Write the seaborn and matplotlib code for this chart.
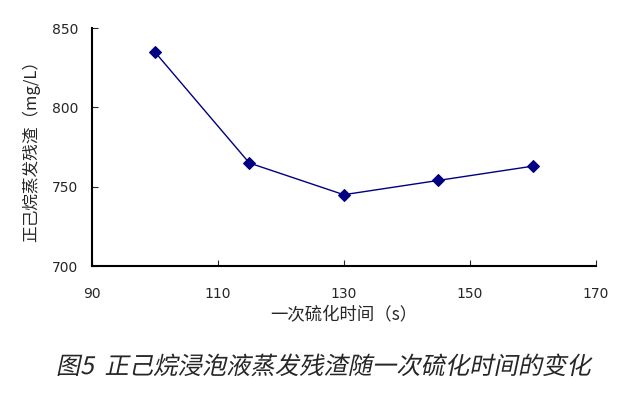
import numpy as np
import pandas as pd
import seaborn as sns
import matplotlib.pyplot as plt
from matplotlib import patheffects
from matplotlib.transforms import Affine2D

# data
time_s = [100, 115, 130, 145, 160]
residue = [835, 765, 745, 754, 763]
x_ticks = [90, 110, 130, 150, 170]
y_ticks = [700, 750, 800, 850]

df = pd.DataFrame({'time': time_s, 'residue': residue})

sns.set_style('white')
plt.rcParams['font.family'] = ['Noto Sans CJK SC', 'DejaVu Sans']


# fake italic for the CJK caption (no italic CJK font installed)
class Slant(patheffects.AbstractPathEffect):
    def __init__(self, y0, angle=12):
        super().__init__()
        self.y0 = y0
        self.angle = np.deg2rad(angle)

    def draw_path(self, renderer, gc, tpath, affine, rgbFace=None):
        sk = Affine2D().translate(0, -self.y0).skew(self.angle, 0).translate(0, self.y0)
        renderer.draw_path(gc, tpath, affine + sk, rgbFace)


fig = plt.figure(figsize=(6.42, 3.96), dpi=100)
ax = fig.add_axes([0.143, 0.328, 0.785, 0.601])

sns.lineplot(x='time', y='residue', data=df, ax=ax, color='#000080',
             marker='D', markersize=6, linewidth=1, markeredgecolor='#000080')

ax.set_xlim(90, 170)
ax.set_ylim(700, 850)
ax.set_xticks(x_ticks)
ax.set_yticks(y_ticks)
for lab in ax.get_xticklabels() + ax.get_yticklabels():
    lab.set_fontfamily('DejaVu Sans')

for side in ['top', 'right']:
    ax.spines[side].set_visible(False)
for side in ['left', 'bottom']:
    ax.spines[side].set_color('black')
    ax.spines[side].set_linewidth(1.5)

ax.tick_params(axis='x', direction='in', length=4, pad=15, labelsize=10, bottom=True)
ax.tick_params(axis='y', direction='in', length=4, pad=10, labelsize=10, left=True)

ax.set_xlabel('一次硫化时间（s）', fontsize=12.5, labelpad=4)
ax.set_ylabel('正己烷蒸发残渣（mg/L）', fontsize=12, labelpad=8)

cap_y = 0.073
fig.text(0.505, cap_y, '图5  正己烷浸泡液蒸发残渣随一次硫化时间的变化',
         ha='center', va='center', fontsize=17.5,
         path_effects=[Slant(cap_y * 396)])

fig.savefig('out.png', dpi=100)
